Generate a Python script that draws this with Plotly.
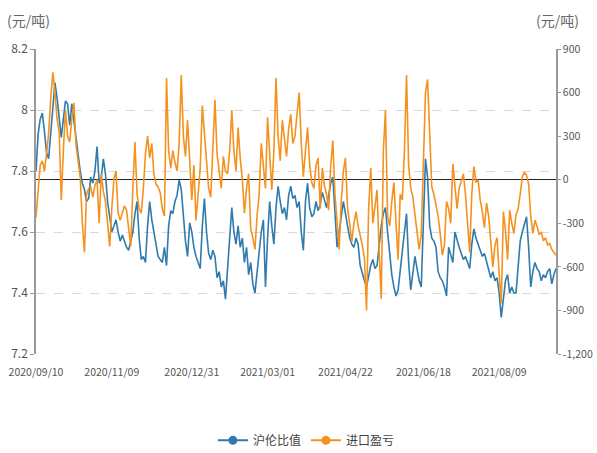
import pandas as pd
import plotly.graph_objects as go

ratio = [7.80, 7.92, 7.97, 7.99, 7.93, 7.86, 7.84, 7.93, 8.03, 8.09,
         8.04, 7.97, 7.91, 7.97, 8.03, 8.02, 7.95, 8.02, 7.96, 7.90,
         7.84, 7.80, 7.76, 7.74, 7.70, 7.71, 7.78, 7.76, 7.80, 7.88,
         7.76, 7.78, 7.84, 7.79, 7.70, 7.64, 7.60, 7.62, 7.64, 7.60,
         7.57, 7.59, 7.57, 7.55, 7.54, 7.57, 7.60, 7.66, 7.70, 7.58,
         7.51, 7.52, 7.50, 7.62, 7.70, 7.64, 7.60, 7.56, 7.52, 7.51,
         7.50, 7.55, 7.49, 7.62, 7.67, 7.66, 7.70, 7.72, 7.77, 7.74,
         7.66, 7.57, 7.52, 7.63, 7.60, 7.55, 7.52, 7.50, 7.48, 7.62,
         7.71, 7.60, 7.53, 7.51, 7.54, 7.52, 7.45, 7.47, 7.42, 7.44,
         7.38, 7.48, 7.60, 7.68, 7.60, 7.56, 7.62, 7.55, 7.58, 7.50,
         7.55, 7.46, 7.50, 7.43, 7.40, 7.47, 7.55, 7.60, 7.64, 7.42,
         7.58, 7.70, 7.62, 7.56, 7.68, 7.75, 7.70, 7.66, 7.68, 7.64,
         7.72, 7.75, 7.71, 7.72, 7.68, 7.70, 7.60, 7.54, 7.70, 7.76,
         7.68, 7.65, 7.66, 7.70, 7.67, 7.69, 7.73, 7.70, 7.68, 7.72,
         7.76, 7.78, 7.66, 7.55, 7.60, 7.66, 7.70, 7.66, 7.62, 7.58,
         7.56, 7.55, 7.58, 7.56, 7.49, 7.46, 7.44, 7.42, 7.46, 7.49,
         7.51, 7.48, 7.49, 7.56, 7.62, 7.66, 7.68, 7.60, 7.52, 7.46,
         7.42, 7.39, 7.41, 7.48, 7.53, 7.60, 7.66, 7.50, 7.41, 7.46,
         7.52, 7.48, 7.44, 7.42, 7.60, 7.84, 7.78, 7.62, 7.58, 7.57,
         7.55, 7.47, 7.45, 7.44, 7.42, 7.39, 7.55, 7.52, 7.50, 7.60,
         7.57, 7.55, 7.53, 7.51, 7.52, 7.50, 7.48, 7.56, 7.61, 7.58,
         7.56, 7.54, 7.52, 7.53, 7.50, 7.47, 7.45, 7.47, 7.44, 7.45,
         7.40, 7.32, 7.38, 7.44, 7.46, 7.40, 7.42, 7.40, 7.40, 7.50,
         7.57, 7.60, 7.63, 7.65, 7.55, 7.42, 7.47, 7.50, 7.48, 7.47,
         7.44, 7.46, 7.45, 7.47, 7.48, 7.43, 7.46, 7.48]

profit = [-260, -80, 100, 130, 60, 180, 320, 560, 740, 600,
          420, 330, -140, 200, 480, 300, 260, 420, 530, 240,
          120, 20, -300, -500, -100, -60, -50, -120, -40, 0,
          -300, 40, -80, -150, -300, -460, -200, 0, 60, -230,
          -280, -230, -180, -210, -330, -460, -60, 260, -100, -200,
          -230, -60, 180, 300, 150, 250, 40, -30, -50, -90,
          -200, -250, 700, 200, 80, 200, 120, 60, 250, 720,
          300, 160, 410, 100, -140, 100, -280, -100, 80, 510,
          300, 120, -60, -120, 200, 550, 180, 60, -60, 160,
          60, 40, 200, 480, 200, 60, 360, 150, 0, -230,
          -60, 40, -340, -400, -480, -250, -100, 250, 100, -60,
          430, 150, -70, 200, 700, 300, 130, 410, 300, 160,
          350, 450, 250, 300, 450, 600, 250, 20, 200, 360,
          100, -20, -60, 100, 150, -200, 80, -40, -100, -210,
          100, 270, -100, -300, -480, -150, 60, 150, -200, -300,
          -430, -300, -220, -320, -380, -450, -540, -900, -200, 80,
          -300, -200, -70, -500, -820, 200, 480, -250, -320, -150,
          -20, -300, -550, -100, -140, 200, 720, 100, -60, -120,
          -250, -370, -480, -380, 100, 600, 690, 300, -50, -100,
          -180, -250, -370, -520, -450, -150, -200, -300, 110, -60,
          -200, -60, 0, 40, -100, -280, -500, -100, 90, -20,
          0, -140, -220, -330, -160, -250, -420, -600, -450, -400,
          -650, -850, -220, -350, -550, -210, -300, -370, -240, -200,
          -100, 20, 50, 30, -30, -250, -370, -280, -320, -380,
          -360, -420, -400, -450, -440, -480, -500, -520]

tick_labels = ["2020/09/10", "2020/11/09", "2020/12/31", "2021/03/01",
               "2021/04/22", "2021/06/18", "2021/08/09"]
left_ticks = [7.2, 7.4, 7.6, 7.8, 8.0, 8.2]
left_tick_text = ["7.2", "7.4", "7.6", "7.8", "8", "8.2"]
right_ticks = [-1200, -900, -600, -300, 0, 300, 600, 900]
right_tick_text = ["-1,200", "-900", "-600", "-300", "0", "300", "600", "900"]
series_names = ["沪伦比值", "进口盈亏"]
unit = "(元/吨)"

holidays = pd.to_datetime([
    "2020-10-01", "2020-10-02", "2020-10-05", "2020-10-06", "2020-10-07", "2020-10-08",
    "2021-01-01", "2021-02-11", "2021-02-12", "2021-02-15", "2021-02-16", "2021-02-17",
    "2021-04-05", "2021-05-03", "2021-05-04", "2021-05-05", "2021-06-14"])
days = pd.bdate_range("2020-09-10", "2021-10-30")
days = days[~days.isin(holidays)]
dates = [d.strftime("%Y/%m/%d") for d in days[:len(ratio)]]

blue = "#2f7bad"
orange = "#f5921e"
font = "Noto Sans CJK SC"

fig = go.Figure()
fig.add_trace(go.Scatter(x=dates, y=ratio, name=series_names[0], mode="lines",
                         line=dict(color=blue, width=1.6), yaxis="y", showlegend=False))
fig.add_trace(go.Scatter(x=dates, y=profit, name=series_names[1], mode="lines",
                         line=dict(color=orange, width=1.6), yaxis="y2", showlegend=False))
# legend glyphs (line + dot)
fig.add_trace(go.Scatter(x=[None], y=[None], name=series_names[0], mode="lines+markers",
                         line=dict(color=blue, width=2), marker=dict(size=9, color=blue)))
fig.add_trace(go.Scatter(x=[None], y=[None], name=series_names[1], mode="lines+markers",
                         line=dict(color=orange, width=2), marker=dict(size=9, color=orange)))

fig.update_layout(
    width=597, height=453,
    margin=dict(l=36, r=41, t=49, b=99, autoexpand=False),
    paper_bgcolor="white", plot_bgcolor="white",
    font=dict(family=font, size=10, color="#555555"),
    showlegend=True,
    legend=dict(orientation="h", x=0.52, xanchor="center", yref="container",
                y=0.028, yanchor="middle",
                font=dict(size=12, color="#444444")),
    xaxis=dict(type="category", range=[0, len(dates) - 1], tickmode="array",
               tickvals=tick_labels, ticktext=tick_labels, showgrid=False,
               showline=False, ticks="outside", ticklen=8, tickcolor="rgba(0,0,0,0)",
               tickfont=dict(size=10.5, color="#555555"),
               zeroline=False, automargin=False),
    yaxis=dict(range=[7.2, 8.2], tickvals=left_ticks, ticktext=left_tick_text,
               showgrid=True, gridcolor="#d9d9d9", griddash="dash", gridwidth=1,
               showline=True, linecolor="#9a9a9a", linewidth=1.5,
               ticks="outside", ticklen=4, tickcolor="#9a9a9a",
               zeroline=False, automargin=False,
               tickfont=dict(size=12, color="#555555")),
    yaxis2=dict(range=[-1200, 900], tickvals=right_ticks, ticktext=right_tick_text,
                overlaying="y", side="right", showgrid=False,
                showline=True, linecolor="#9a9a9a", linewidth=1.5,
                ticks="outside", ticklen=3, tickcolor="#9a9a9a",
                zeroline=True, zerolinecolor="#222222", zerolinewidth=1.2,
                automargin=False, tickfont=dict(size=10.5, color="#555555")),
    annotations=[
        dict(text=unit, xref="paper", yref="paper", x=0, y=1, xshift=-8, yshift=29,
             xanchor="center", yanchor="middle", showarrow=False,
             font=dict(size=14, color="#666666", family=font)),
        dict(text=unit, xref="paper", yref="paper", x=1, y=1, xshift=1, yshift=29,
             xanchor="center", yanchor="middle", showarrow=False,
             font=dict(size=14, color="#666666", family=font)),
    ],
)

# remove the default 8px page margin so the figure sits at the window's top-left
fig.write_html("out.html", config={"displayModeBar": False},
               post_script="document.body.style.margin='0';document.body.style.overflow='hidden';")
